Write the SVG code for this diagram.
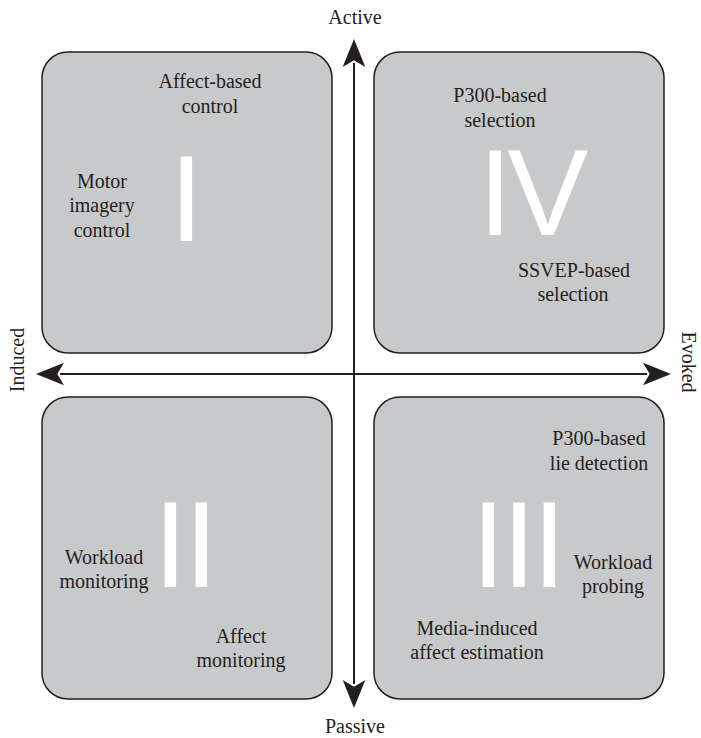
<svg xmlns="http://www.w3.org/2000/svg" width="701" height="738" viewBox="0 0 701 738">
<style>
.box{fill:#c8c9cb;stroke:#231f20;stroke-width:1.5}
.t{font-family:"Liberation Serif",serif;font-size:20px;fill:#231f20;text-anchor:middle}
.num{font-family:"Liberation Sans",sans-serif;font-size:121.5px;fill:#ffffff}
.axis{stroke:#231f20;stroke-width:2;fill:none}
</style>
<defs>
<marker id="ah" markerUnits="userSpaceOnUse" markerWidth="40" markerHeight="40" viewBox="-10 -10 30 20" refX="0" refY="0" orient="auto-start-reverse" overflow="visible">
<path d="M18,0 L-3,-8.5 L2,0 L-3,8.5 Z" fill="#231f20"/>
</marker>
</defs>
<g id="quadrant-I">
<rect class="box" x="42" y="52" width="290" height="301" rx="26"/>
<text class="t" x="210" y="88">Affect-based</text>
<text class="t" x="210" y="113">control</text>
<text class="t" x="102" y="188">Motor</text>
<text class="t" x="102" y="212">imagery</text>
<text class="t" x="102" y="237">control</text>
<text class="num" x="169.6" y="241">I</text>
</g>
<g id="quadrant-IV">
<rect class="box" x="374" y="52" width="290" height="301" rx="26"/>
<text class="t" x="500" y="102">P300-based</text>
<text class="t" x="500" y="127">selection</text>
<text class="num" x="478.6" y="235" letter-spacing="-5">IV</text>
<text class="t" x="574" y="277">SSVEP-based</text>
<text class="t" x="573" y="301">selection</text>
</g>
<g id="quadrant-II">
<rect class="box" x="42" y="397" width="290" height="302" rx="26"/>
<text class="num" x="153.6" y="587" letter-spacing="-2.8">II</text>
<text class="t" x="104" y="564">Workload</text>
<text class="t" x="104" y="588">monitoring</text>
<text class="t" x="241" y="643">Affect</text>
<text class="t" x="241" y="667">monitoring</text>
</g>
<g id="quadrant-III">
<rect class="box" x="374" y="397" width="290" height="302" rx="26"/>
<text class="t" x="599" y="445">P300-based</text>
<text class="t" x="599" y="470">lie detection</text>
<text class="num" x="471.6" y="587" letter-spacing="-3.3">III</text>
<text class="t" x="613" y="569">Workload</text>
<text class="t" x="613" y="593">probing</text>
<text class="t" x="477" y="635">Media-induced</text>
<text class="t" x="477" y="659">affect estimation</text>
</g>
<g id="connectors">
<line class="axis" x1="354" y1="63" x2="354" y2="684" marker-start="url(#ah)" marker-end="url(#ah)"/>
<line class="axis" x1="60" y1="374" x2="647" y2="374" marker-start="url(#ah)" marker-end="url(#ah)"/>
</g>
<g id="axis-labels">
<text class="t" x="355" y="24">Active</text>
<text class="t" x="355" y="733">Passive</text>
<text class="t" transform="translate(24,360) rotate(-90)">Induced</text>
<text class="t" transform="translate(682,362) rotate(90)">Evoked</text>
</g>
</svg>
